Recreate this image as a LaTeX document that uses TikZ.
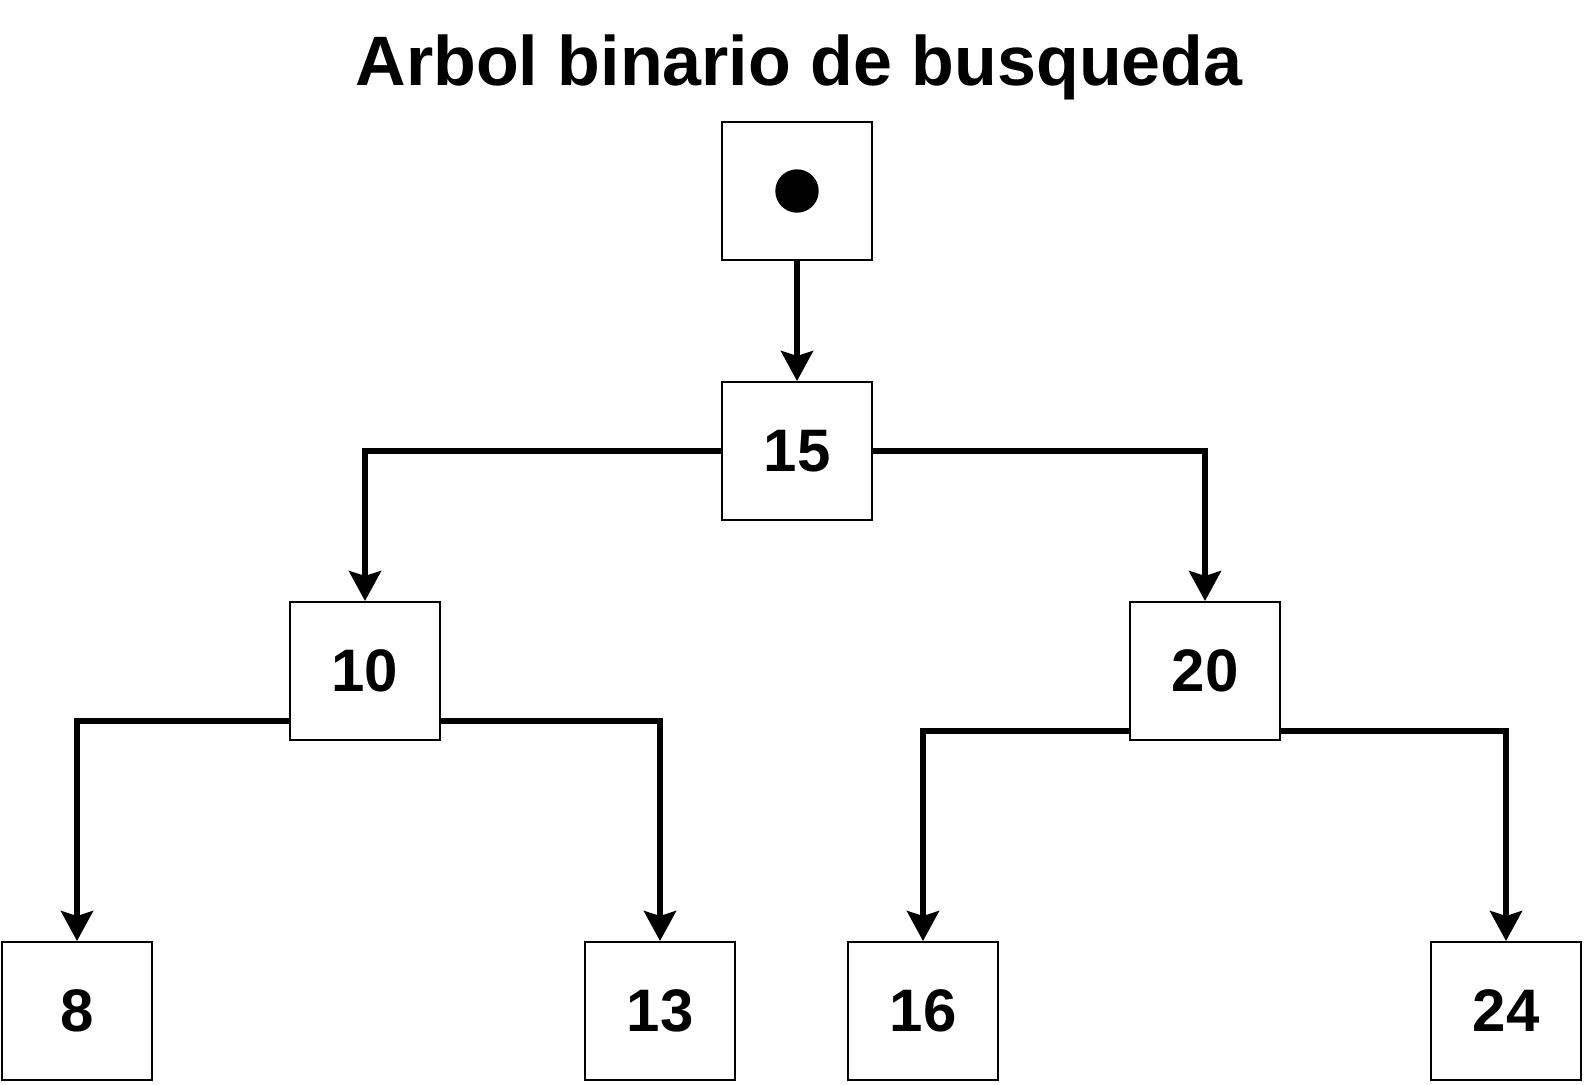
\documentclass[tikz,border=0pt]{standalone}
\usepackage{fontspec}
\setmainfont{Liberation Sans}
\usetikzlibrary{arrows.meta}
\begin{document}
\begin{tikzpicture}[x=1pt,y=-1pt,
  box/.style={draw, line width=2pt, minimum width=150pt, minimum height=138pt, inner sep=0pt, font=\fontsize{60}{60}\selectfont\bfseries},
  conn/.style={line width=5.5pt, -{Stealth[length=30pt,width=32pt,inset=5pt]}}]
\useasboundingbox (0,0) rectangle (1584,1084);
\node[font=\fontsize{70}{70}\selectfont\bfseries, anchor=base, inner sep=0pt] (title) at (799,85) {Arbol binario de busqueda};
\node[box] (root) at (797,191) {};
\fill (797,191) circle (21.7);
\node[box] (n15) at (797,451) {15};
\node[box] (n10) at (365,671) {10};
\node[box] (n20) at (1205,671) {20};
\node[box] (n8) at (77,1011) {8};
\node[box] (n13) at (660,1011) {13};
\node[box] (n16) at (923,1011) {16};
\node[box] (n24) at (1506,1011) {24};
\draw[conn] (root.south) -- (n15.north);
\draw[conn] (n15.west) -| (n10.north);
\draw[conn] (n15.east) -| (n20.north);
\draw[conn] (n10.west |- 0,721) -| (n8.north);
\draw[conn] (n10.east |- 0,721) -| (n13.north);
\draw[conn] (n20.west |- 0,731) -| (n16.north);
\draw[conn] (n20.east |- 0,731) -| (n24.north);
\end{tikzpicture}
\end{document}
